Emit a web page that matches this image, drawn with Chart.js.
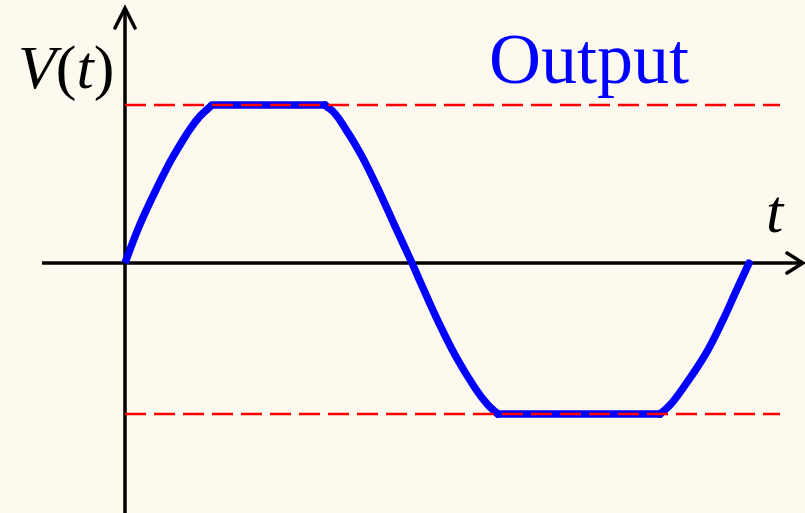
<!DOCTYPE html>
<html>
<head>
<meta charset="utf-8">
<script src="https://cdn.jsdelivr.net/npm/chart.js@4.4.0/dist/chart.umd.min.js"></script>
<style>
  html, body { margin: 0; padding: 0; background: #fdf9ef; }
  #wrap { width: 805px; height: 513px; }
</style>
</head>
<body>
<div id="wrap"><canvas id="chart"></canvas></div>
<script>
// clipped sine (t along the axis, V with clip level = 1)
const tValues = [0, 0.13, 0.28, 0.45, 0.55, 0.65, 0.75, 0.87,
  2.00, 2.10, 2.20, 2.30, 2.40, 2.55, 2.70, 2.87,
  2.98, 3.13, 3.30, 3.50, 3.63, 3.73,
  5.35, 5.45, 5.58, 5.80, 5.97, 6.12, 6.24];
const vValues = [0, 0.215, 0.424, 0.639, 0.747, 0.848, 0.930, 1.0,
  1.0, 0.946, 0.854, 0.753, 0.639, 0.443, 0.234, 0,
  -0.158, -0.367, -0.582, -0.791, -0.899, -0.956,
  -0.956, -0.899, -0.791, -0.582, -0.373, -0.165, 0];
// index of each point where the wave goes flat / leaves the flat
const breaks = [0, 7, 8, 21, 22, 28];

const clipHigh = 1.0;
const clipLow = -0.956;
const clipLineT = [0, 6.55];

// visible range and axis extents
const tRange = [-1.25, 6.8];
const vRange = [-1.582, 1.665];
const xAxisT = [-0.83, 6.78];
const yAxisV = [-1.582, 1.614];

const curve = tValues.map((t, i) => ({ x: t, y: vValues[i] }));
const hiLine = clipLineT.map(t => ({ x: t, y: clipHigh }));
const loLine = clipLineT.map(t => ({ x: t, y: clipLow }));

const dashed = data => ({
  data,
  borderColor: '#ff0000',
  borderWidth: 2.5,
  borderDash: [21, 8],
  pointRadius: 0
});

const wavePieces = [];
for (let k = 0; k < breaks.length - 1; k++) {
  wavePieces.push({
    data: curve.slice(breaks[k], breaks[k + 1] + 1),
    borderColor: '#0000ff',
    borderWidth: 7.5,
    borderCapStyle: 'round',
    borderJoinStyle: 'round',
    tension: k % 2 === 0 ? 0.4 : 0,
    pointRadius: 0
  });
}
wavePieces[0].borderCapStyle = 'butt';

const bg = {
  id: 'bg',
  beforeDraw(chart) {
    const c = chart.ctx;
    c.save();
    c.fillStyle = '#fdf9ef';
    c.fillRect(0, 0, chart.width, chart.height);
    c.restore();
  }
};

const axes = {
  id: 'axes',
  beforeDatasetsDraw(chart) {
    const c = chart.ctx;
    const xs = chart.scales.x, ys = chart.scales.y;
    const x0 = xs.getPixelForValue(0), y0 = ys.getPixelForValue(0);
    const xa = xs.getPixelForValue(xAxisT[0]), xb = xs.getPixelForValue(xAxisT[1]);
    const ya = ys.getPixelForValue(yAxisV[1]), yb = ys.getPixelForValue(yAxisV[0]);
    c.save();
    c.strokeStyle = '#000';
    c.lineWidth = 3.5;
    c.lineCap = 'butt';
    c.beginPath();
    c.moveTo(xa, y0); c.lineTo(xb - 2, y0);
    c.moveTo(x0, yb + 5); c.lineTo(x0, ya + 2);
    c.stroke();
    c.lineCap = 'round';
    c.lineJoin = 'miter';
    c.beginPath();
    c.moveTo(xb - 16, y0 - 10); c.lineTo(xb, y0); c.lineTo(xb - 16, y0 + 10);
    c.moveTo(x0 - 10, ya + 20); c.lineTo(x0, ya); c.lineTo(x0 + 10, ya + 20);
    c.stroke();
    c.restore();
  },
  afterDraw(chart) {
    const c = chart.ctx;
    c.save();
    c.textBaseline = 'alphabetic';
    c.fillStyle = '#000';
    const size = 62;
    const it = `italic ${size}px "Liberation Serif", "DejaVu Serif", serif`;
    const up = `${size}px "Liberation Serif", "DejaVu Serif", serif`;
    let x = 18;
    const base = 88;
    [['V', it], ['(', up], ['t', it], [')', up]].forEach(([s, f]) => {
      c.font = f;
      c.fillText(s, x, base);
      x += c.measureText(s).width;
    });
    c.font = it;
    c.fillText('t', 766, 232);
    c.fillStyle = '#0000ff';
    c.font = `72px "Liberation Serif", "DejaVu Serif", serif`;
    c.fillText('Output', 489, 83);
    c.restore();
  }
};

new Chart(document.getElementById('chart'), {
  type: 'line',
  data: {
    datasets: [dashed(hiLine), dashed(loLine), ...wavePieces]
  },
  options: {
    responsive: true,
    maintainAspectRatio: false,
    animation: false,
    layout: { padding: 0 },
    plugins: { legend: { display: false }, tooltip: { enabled: false } },
    scales: {
      x: { type: 'linear', min: tRange[0], max: tRange[1], display: false },
      y: { type: 'linear', min: vRange[0], max: vRange[1], display: false }
    }
  },
  plugins: [bg, axes]
});
</script>
</body>
</html>
